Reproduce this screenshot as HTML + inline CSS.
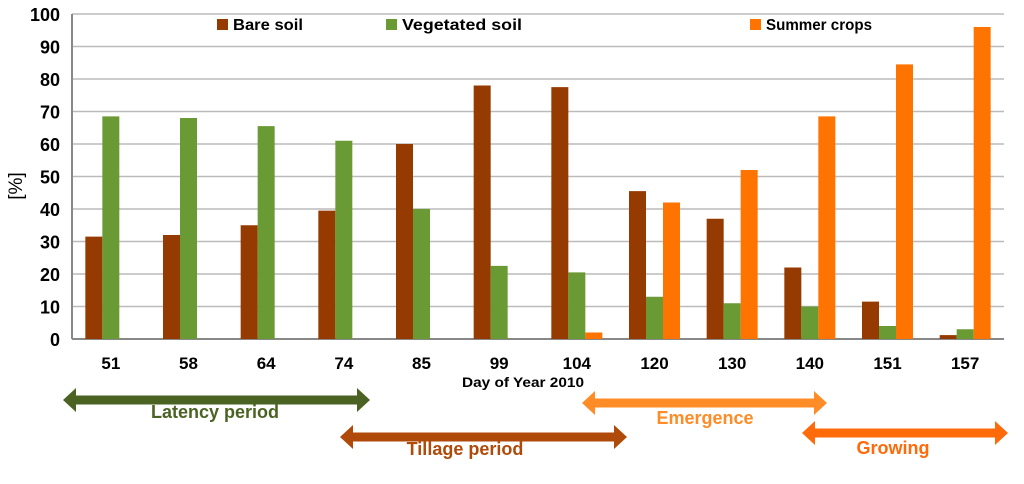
<!DOCTYPE html>
<html><head><meta charset="utf-8"><style>
body{margin:0;background:#fff;}
svg text{font-family:"Liberation Sans",sans-serif;font-weight:bold;}
</style></head><body>
<svg width="1024" height="479" xmlns="http://www.w3.org/2000/svg">
<g id="grid"></g><g id="bars"></g><g id="axes"></g>
<g font-size="16">
<rect x="217" y="19" width="11" height="11" fill="#953a00"/><text x="233" y="30" textLength="70" lengthAdjust="spacingAndGlyphs">Bare soil</text>
<rect x="386" y="19" width="11" height="11" fill="#6a9a34"/><text x="402" y="30" textLength="120" lengthAdjust="spacingAndGlyphs">Vegetated soil</text>
<rect x="750" y="19" width="11" height="11" fill="#ff7300"/><text x="766" y="30" textLength="106" lengthAdjust="spacingAndGlyphs">Summer crops</text>
</g>
<text transform="translate(22,186) rotate(-90)" text-anchor="middle" font-size="19" style="font-weight:normal">[%]</text>
<text x="523" y="387" text-anchor="middle" font-size="14" textLength="122" lengthAdjust="spacingAndGlyphs">Day of Year 2010</text>
<g id="periods"></g>
</svg>
<script>
const categories=["51","58","64","74","85","99","104","120","130","140","151","157"];
const bareSoil=[31.5,32,35,39.5,60,78,77.5,45.5,37,22,11.5,1.2];
const vegetatedSoil=[68.5,68,65.5,61,40,22.5,20.5,13,11,10,4,3];
const summerCrops=[0,0,0,0,0,0,2,42,52,68.5,84.5,96];
const yTicks=[0,10,20,30,40,50,60,70,80,90,100];
const NS="http://www.w3.org/2000/svg";
const x0=72,x1=1004,yTop=14,yBot=339;
const step=(x1-x0)/categories.length;
const y=v=>yBot-(v/100)*(yBot-yTop);
const xc=i=>x0+step*(i+0.5);
function mk(tag,attrs,parent){const e=document.createElementNS(NS,tag);for(const k in attrs)e.setAttribute(k,attrs[k]);parent.appendChild(e);return e;}
const grid=document.getElementById('grid'),axes=document.getElementById('axes'),bars=document.getElementById('bars');
yTicks.forEach(t=>{
 const l=mk('line',{x1:x0,x2:x1,y1:y(t),y2:y(t),stroke:t===0?'#888':'#bbb','stroke-width':t===0?2:1.5},grid);
 
 
 const tx=mk('text',{x:60,y:y(t)+7,'text-anchor':'end','font-size':18},axes);tx.textContent=t;
 
 
});
mk('line',{x1:x0,x2:x0,y1:yTop,y2:yBot,stroke:'#888','stroke-width':2},axes);
const series=[[bareSoil,'#953a00','bare'],[vegetatedSoil,'#6a9a34','veg'],[summerCrops,'#ff7300','summer']];
const bw=17;
categories.forEach((c,i)=>{
 series.forEach((s,j)=>{
  const v=s[0][i];
  const r=mk('rect',{x:xc(i)+(j-1)*bw-bw/2,y:y(v),width:bw,height:yBot-y(v),fill:s[1]},bars);
  
  
 });
 const t=mk('text',{x:xc(i),y:369,'text-anchor':'middle','font-size':17},axes);t.textContent=c;
 
 
});
const periods=[["Latency period",63,370,400,"#4a6322",215,418],["Tillage period",340,627,437,"#b04a0a",465,455],["Emergence",582,827,403,"#ff8c26",705,424],["Growing",802,1008,433,"#ff6a0a",893,454]];
const pg=document.getElementById('periods');
periods.forEach(p=>{
 const [lab,a,b,yy,col,tx,ty]=p,h=9,hw=12,hl=13;
 const g=mk('g',{},pg);
 
 
 mk('polygon',{points:`${a},${yy} ${a+hl},${yy-hw} ${a+hl},${yy-h/2} ${b-hl},${yy-h/2} ${b-hl},${yy-hw} ${b},${yy} ${b-hl},${yy+hw} ${b-hl},${yy+h/2} ${a+hl},${yy+h/2} ${a+hl},${yy+hw}`,fill:col},g);
 const t=mk('text',{x:tx,y:ty,'text-anchor':'middle','font-size':18,fill:col},g);t.textContent=lab;
});
</script>
</body></html>
